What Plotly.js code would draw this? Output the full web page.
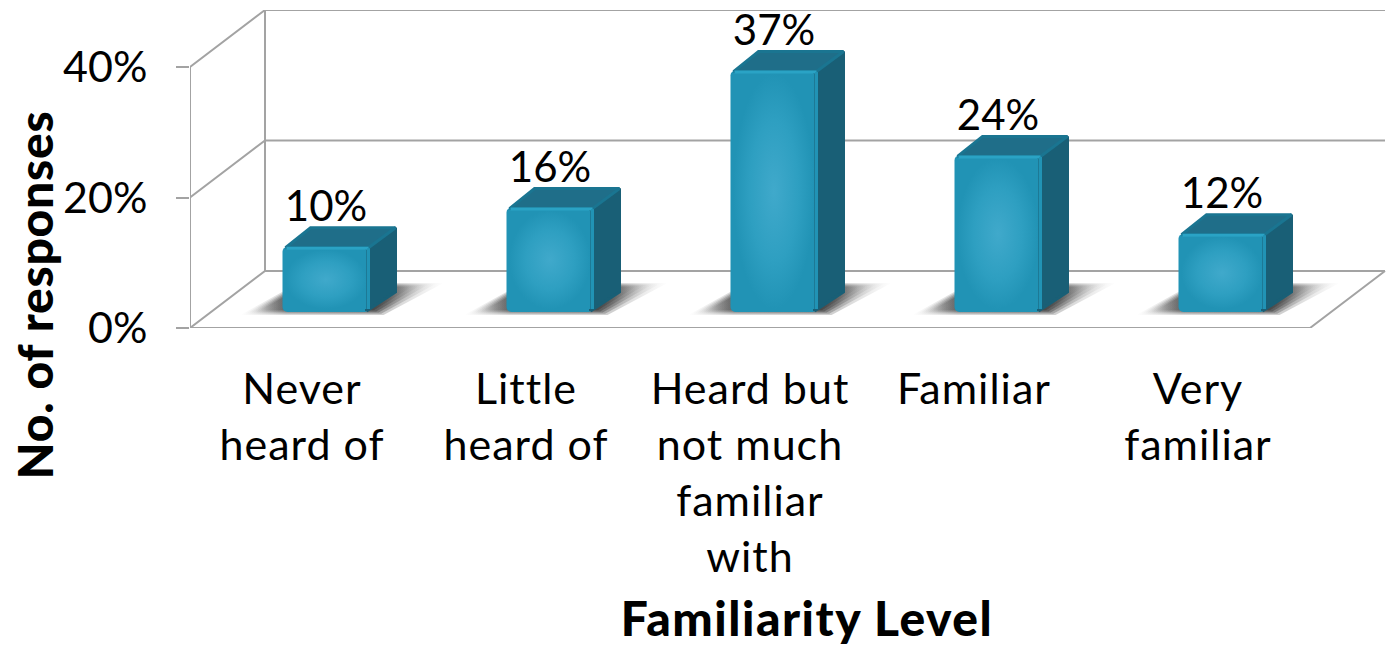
<!DOCTYPE html>
<html><head><meta charset="utf-8">
<script src="https://cdn.plot.ly/plotly-3.0.1.min.js"></script>
<style>html,body{margin:0;padding:0;background:#fff}
.xtick text{letter-spacing:1px}
.x3title{letter-spacing:1.5px}
.y3title{letter-spacing:.75px}
</style></head>
<body><div id="chart" style="width:1387px;height:646px"></div>
<script>
const categories = ["Never<br>heard of","Little<br>heard of","Heard but<br>not much<br>familiar<br>with","Familiar","Very<br>familiar"];
const values = [10,16,37,24,12];
const yTicks = [0,20,40];
const yTitle = "No. of responses";
const xTitle = "Familiarity Level";

const FONT = 'Lato, "Open Sans", sans-serif';
const pxX = 224, pxY = 6.525;
const wallDX = 75/pxX, wallDY = 57/pxY;
const barOffX = 24/pxX, barOffY = 16/pxY;
const barW = 87/pxX, barDX = 27/pxX, barDY = 20/pxY;
const xMin = -0.5, xMax = xMin + 1197/pxX, yMax = 318/pxY;
const xEnd = categories.length - 0.5;

const GRID = '#a3a3a3';
const traces = [];
const wall = (x,y) => traces.push({type:'scatter',mode:'lines',x,y,line:{color:GRID,width:2},hoverinfo:'skip',showlegend:false,cliponaxis:false});
// walls
wall([xMin,xMin],[yTicks[0],yTicks[yTicks.length-1]]);
wall([xMin+wallDX,xMin+wallDX],[wallDY,yTicks[yTicks.length-1]+wallDY]);
yTicks.forEach(t=>{
  wall([xMin,xMin+wallDX,xEnd+wallDX],[t,t+wallDY,t+wallDY]);
});
wall([xMin,xEnd,xEnd+wallDX],[0,0,wallDY]);

// floor shadows: stacked soft layers
const shadowLayers = [[0,0.2],[4,0.24],[8,0.3],[12,0.36],[16,0.42]];
categories.forEach((c,i)=>{
  const L = i+barOffX-barW/2, R = L+barW, B = barOffY;
  shadowLayers.forEach(([k,a])=>{
    const left=(L*pxX-42+k*1.2)/pxX, right=(R*pxX+14-k*0.6)/pxX;
    traces.push({type:'scatter',mode:'lines',hoverinfo:'skip',showlegend:false,
      x:[left,right,right+(60-k*1.4)/pxX,left+(58-k)/pxX,left],
      y:[B-(3-k*0.3)/pxY,B-(3-k*0.3)/pxY,B+(29-k*0.25)/pxY,B+(29-k*0.25)/pxY,B-(3-k*0.3)/pxY],
      line:{width:0,color:'rgba(0,0,0,0)'},fill:'toself',
      fillgradient:{type:'horizontal',colorscale:[[0,'rgba(60,60,60,0)'],[0.22,`rgba(60,60,60,${a})`],[0.74,`rgba(50,50,50,${a*1.15})`],[1,'rgba(80,80,80,0)']]}});
  });
});

// overlay: bars
const over = {xaxis:'x2',yaxis:'y2',hoverinfo:'skip',showlegend:false,cliponaxis:false};
categories.forEach((c,i)=>{
  const L = i+barOffX-barW/2, R = L+barW, B = barOffY, T = B+values[i];
  const g=1/pxX, h=1/pxY;
  traces.push(Object.assign({},over,{type:'scatter',mode:'lines',
    x:[R+g-4/pxX,R+barDX-g,R+barDX-g,R+g-4/pxX,R+g-4/pxX],y:[B+h,B+barDY,T+barDY-h,T-h,B+h],
    line:{color:'#195f76',width:3},fill:'toself',fillcolor:'#195f76'}));
  traces.push(Object.assign({},over,{type:'scatter',mode:'lines',
    x:[L+g*3,L+barDX+g,R+barDX-g,R-g,L+g*3],y:[T-h,T+barDY-h,T+barDY-h,T-h,T-h],
    line:{color:'#1a7591',width:3},fill:'toself',fillcolor:'#1f6e89'}));
});
traces.push(Object.assign({},over,{type:'bar',name:'responses',
  x:categories.map((c,i)=>i+barOffX),y:values,base:barOffY,width:barW,
  marker:{color:'#2193b5',cornerradius:5,line:{width:0}}}));
categories.forEach((c,i)=>{
  const L = i+barOffX-barW/2, R = L+barW, B = barOffY, T = B+values[i];
  const ix=3/pxX, iy=3/pxY;
  traces.push(Object.assign({},over,{type:'scatter',mode:'lines',
    x:[L+ix,R-ix,R-ix,L+ix,L+ix],y:[B+iy,B+iy,T-iy,T-iy,B+iy],
    line:{width:0,color:'rgba(0,0,0,0)'},fill:'toself',
    fillgradient:{type:'radial',colorscale:[[0,'#40a9cb'],[0.6,'#2e9fc1'],[1,'#2193b5']]}}));
  traces.push(Object.assign({},over,{type:'scatter',mode:'lines',
    x:[L+4/pxX,R-1/pxX],y:[T-1.5/pxY,T-1.5/pxY],
    line:{color:'#2aa3c5',width:3}}));
  traces.push(Object.assign({},over,{type:'scatter',mode:'lines',
    x:[R-1/pxX,R-1/pxX],y:[B+3/pxY,T-1.5/pxY],
    line:{color:'#2193b5',width:3}}));
});
// value labels
traces.push(Object.assign({},over,{type:'scatter',mode:'text',
  x:categories.map((c,i)=>i+barOffX),
  y:values.map(v=>v+barOffY+barDY-5/pxY),
  text:values.map(v=>v+'%'),textposition:'top center',
  textfont:{family:FONT,size:42,color:'#000'}}));
// carrier for the axis titles
traces.push({type:'scatter',mode:'lines',x:[null],y:[null],xaxis:'x3',yaxis:'y3',hoverinfo:'skip',showlegend:false});

const plotTop = 10, plotBottom = 580, zeroPx = 328, plotH = plotBottom-plotTop;
const layout = {
  width:1387,height:646,
  margin:{l:190,r:0,t:plotTop,b:646-plotBottom,pad:0},
  paper_bgcolor:'#fff',plot_bgcolor:'rgba(0,0,0,0)',
  showlegend:false,barmode:'overlay',
  font:{family:FONT,color:'#000'},
  xaxis:{range:[xMin,xMax],tickmode:'array',tickvals:categories.map((c,i)=>i),ticktext:categories,
    tickangle:0,ticks:'',showgrid:false,zeroline:false,showline:false,
    tickfont:{family:FONT,size:43,color:'#000'},ticklabelstandoff:32},
  yaxis:{domain:[(plotBottom-zeroPx)/plotH,1],range:[0,yMax],tickmode:'array',tickvals:yTicks,ticktext:yTicks.map(t=>t+'%'),
    ticks:'outside',ticklen:13,tickwidth:2,tickcolor:GRID,showgrid:false,zeroline:false,showline:false,
    tickfont:{family:FONT,size:43,color:'#000'},ticklabelstandoff:20},
  xaxis2:{overlaying:'x',range:[xMin,xMax],visible:false},
  yaxis2:{overlaying:'y',range:[0,yMax],visible:false},
  xaxis3:{domain:[37/1197,1],range:[0,1],anchor:'y3',showticklabels:false,ticks:'',showgrid:false,zeroline:false,showline:false,
    title:{text:xTitle,font:{family:FONT,size:48,color:'#000',weight:900},standoff:22}},
  yaxis3:{domain:[0,1],range:[0,1],anchor:'free',position:0,showticklabels:false,ticks:'',showgrid:false,zeroline:false,showline:false,
    title:{text:yTitle,font:{family:FONT,size:48,color:'#000',weight:900},standoff:120}}
};
Plotly.newPlot('chart',traces,layout,{displayModeBar:false,staticPlot:true});
</script></body></html>
